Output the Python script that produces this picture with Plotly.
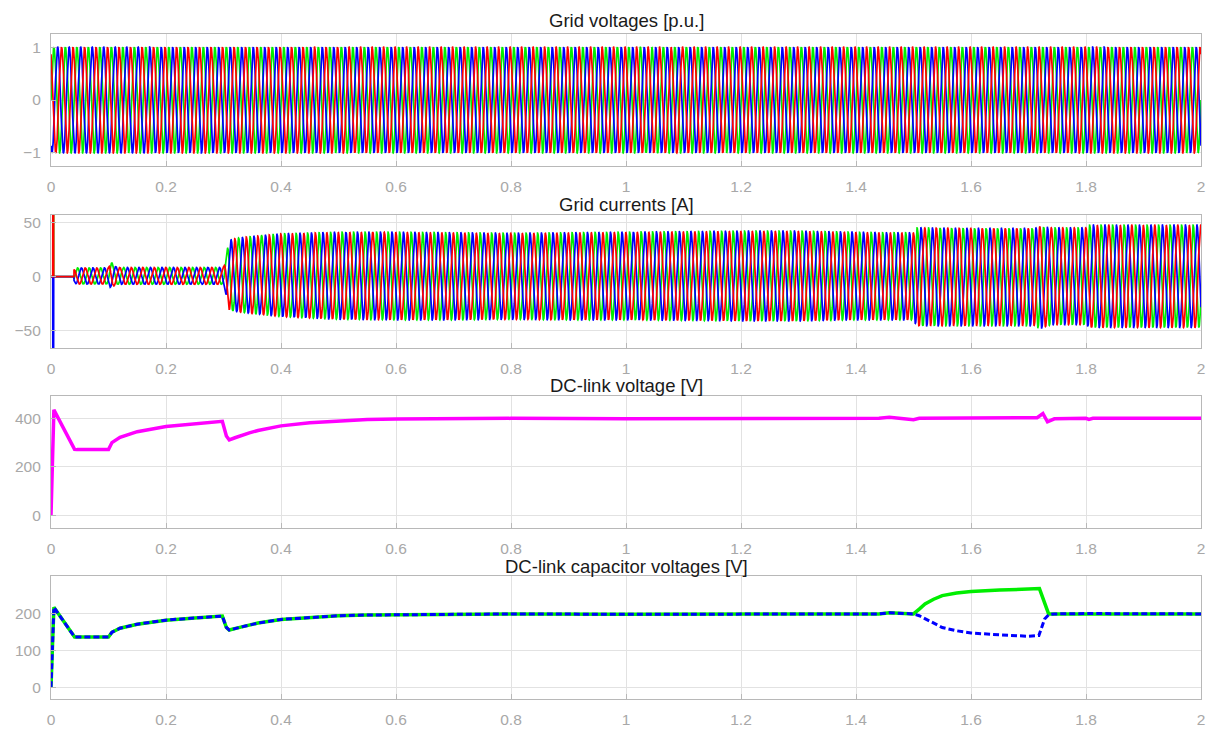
import numpy as np
import plotly.graph_objects as go

# ---------------- data ----------------
F_GRID = 50.0            # Hz
T_END = 2.0
V_AMP = 1.0              # grid voltage amplitude [p.u.]

# grid current envelope (time, positive peak, negative peak)
cur_env_t = [0.040, 0.045, 0.100, 0.103, 0.108, 0.115, 0.300, 0.305, 0.310, 0.330, 0.400,
             0.500, 0.600, 0.700, 0.800, 0.900, 1.000, 1.100, 1.200, 1.300, 1.400, 1.450,
             1.500, 1.505, 1.600, 1.710, 1.720, 1.740, 1.800, 1.805, 2.000]
cur_env_up = [6.5, 8.0, 8.0, 15.0, 11.0, 8.4, 8.4, 22.0, 34.0, 36.0, 39.5,
              41.0, 41.0, 40.5, 40.0, 40.5, 41.0, 41.5, 42.0, 42.0, 41.0, 40.5,
              40.5, 45.0, 44.5, 44.5, 46.0, 45.0, 45.0, 47.5, 47.5]
cur_env_lo = [6.0, 7.0, 7.0, 10.0, 9.0, 7.2, 7.2, 20.0, 31.0, 33.0, 37.0,
              39.5, 40.0, 40.0, 39.5, 40.0, 40.0, 40.5, 41.0, 41.0, 40.0, 40.0,
              40.0, 45.5, 45.5, 45.5, 48.0, 44.5, 44.5, 47.0, 47.0]
# start-up spike of the grid currents
spike_t = [0.0, 0.0030, 0.0032, 0.0045, 0.0047, 0.040]
spike_r = [0.0, 0.0, 80.0, 80.0, 0.0, 0.0]
spike_g = [0.0, 0.0, 0.0, 80.0, 0.0, 0.0]
spike_b = [0.0, 0.0, -90.0, -90.0, 0.0, 0.0]

# DC-link voltage
dc_t = [0.0, 0.005, 0.041, 0.045, 0.100, 0.106, 0.120, 0.150, 0.200, 0.250, 0.298,
        0.305, 0.310, 0.320, 0.330, 0.345, 0.360, 0.380, 0.400, 0.450, 0.500, 0.550,
        0.600, 0.700, 0.800, 1.000, 1.200, 1.440, 1.458, 1.480, 1.500, 1.510, 1.700,
        1.715, 1.725, 1.733, 1.745, 1.800, 1.805, 1.812, 2.000]
dc_v = [0.0, 435.0, 272.0, 271.0, 271.0, 300.0, 322.0, 345.0, 366.0, 378.0, 388.0,
        327.0, 311.0, 320.0, 329.0, 340.0, 350.0, 361.0, 369.0, 382.0, 390.0, 395.0,
        397.0, 399.0, 400.0, 398.0, 400.0, 401.0, 405.0, 401.0, 394.0, 400.0, 400.0,
        403.0, 420.0, 386.0, 398.0, 400.0, 396.0, 400.0, 400.0]

# DC-link capacitor voltages (upper = green, lower = blue)
cap1_t = [0.0, 0.005, 0.041, 0.100, 0.106, 0.120, 0.150, 0.200, 0.250, 0.298, 0.305,
          0.310, 0.330, 0.360, 0.400, 0.450, 0.500, 0.550, 0.600, 0.800, 1.000, 1.200,
          1.440, 1.458, 1.490, 1.500, 1.510, 1.520, 1.535, 1.550, 1.575, 1.600, 1.650,
          1.700, 1.719, 1.735, 1.745, 1.800, 2.000]
cap1_v = [0.0, 218.0, 137.0, 137.0, 150.0, 161.0, 172.0, 183.0, 189.0, 194.0, 163.0,
          156.0, 164.0, 175.0, 185.0, 191.0, 195.0, 197.0, 198.0, 200.0, 199.0, 200.0,
          200.0, 203.0, 200.0, 200.0, 213.0, 227.0, 240.0, 250.0, 257.0, 261.0, 265.0,
          268.0, 269.0, 200.0, 200.0, 201.0, 200.0]
cap2_t = [0.0, 0.005, 0.041, 0.100, 0.106, 0.120, 0.150, 0.200, 0.250, 0.298, 0.305,
          0.310, 0.330, 0.360, 0.400, 0.450, 0.500, 0.550, 0.600, 0.800, 1.000, 1.200,
          1.440, 1.458, 1.490, 1.500, 1.510, 1.520, 1.535, 1.550, 1.575, 1.600, 1.650,
          1.700, 1.718, 1.722, 1.728, 1.735, 1.745, 1.800, 2.000]
cap2_v = [0.0, 218.0, 137.0, 137.0, 150.0, 161.0, 172.0, 183.0, 189.0, 194.0, 163.0,
          156.0, 164.0, 175.0, 185.0, 191.0, 195.0, 197.0, 198.0, 200.0, 199.0, 200.0,
          200.0, 203.0, 200.0, 200.0, 195.0, 187.0, 174.0, 163.0, 154.0, 148.0, 143.0,
          139.0, 141.0, 157.0, 186.0, 198.0, 200.0, 201.0, 200.0]

x_ticks = [0, 0.2, 0.4, 0.6, 0.8, 1.0, 1.2, 1.4, 1.6, 1.8, 2.0]
x_tick_text = ["0", "0.2", "0.4", "0.6", "0.8", "1", "1.2", "1.4", "1.6", "1.8", "2"]
titles = ["Grid voltages [p.u.]", "Grid currents [A]", "DC-link voltage [V]",
          "DC-link capacitor voltages [V]"]
y_ticks = [[-1, 0, 1], [-50, 0, 50], [0, 200, 400], [0, 100, 200]]
y_ranges = [[-1.25, 1.25], [-66, 57], [-52, 493], [-32, 304]]

RED, GREEN, BLUE, MAGENTA = "#ff0000", "#00ee00", "#0000ff", "#ff00ff"

# ---------------- waveforms ----------------
t = np.arange(0, T_END + 1e-9, 0.0002)
w = 2 * np.pi * F_GRID
phases = {"r": 2 * np.pi / 3, "g": 0.0, "b": -2 * np.pi / 3}

volt = {k: V_AMP * np.sin(w * t + p) for k, p in phases.items()}

up = np.interp(t, cur_env_t, cur_env_up)
lo = np.interp(t, cur_env_t, cur_env_lo)
active = t >= cur_env_t[0]
cur = {}
for k, p in phases.items():
    s = np.sin(w * t + p - 0.4)
    c = np.where(s >= 0, s * up, s * lo)
    c = np.where(active, c, 0.0)
    cur[k] = c
spike = {"r": spike_r, "g": spike_g, "b": spike_b}
pre = t < cur_env_t[0]
cur_t = {}
cur_y = {}
for k in phases:
    cur_t[k] = np.concatenate([spike_t, t[~pre]])
    cur_y[k] = np.concatenate([spike[k], cur[k][~pre]])

# ---------------- figure ----------------
fig = go.Figure()
cols = {"r": RED, "g": GREEN, "b": BLUE}

for k in ["g", "b", "r"]:
    fig.add_trace(go.Scatter(x=t, y=volt[k], mode="lines", line=dict(color=cols[k], width=1.7),
                             xaxis="x", yaxis="y", showlegend=False))
for k in ["g", "b", "r"]:
    fig.add_trace(go.Scatter(x=cur_t[k], y=cur_y[k], mode="lines", line=dict(color=cols[k], width=1.7),
                             xaxis="x2", yaxis="y2", showlegend=False))
fig.add_trace(go.Scatter(x=dc_t, y=dc_v, mode="lines", line=dict(color=MAGENTA, width=3.5),
                         xaxis="x3", yaxis="y3", showlegend=False))
fig.add_trace(go.Scatter(x=cap1_t, y=cap1_v, mode="lines", line=dict(color=GREEN, width=3.5),
                         xaxis="x4", yaxis="y4", showlegend=False))
fig.add_trace(go.Scatter(x=cap2_t, y=cap2_v, mode="lines",
                         line=dict(color=BLUE, width=3, dash="6px,3px"),
                         xaxis="x4", yaxis="y4", showlegend=False))

H_TOP, H_BOT = 34, 26
plot_h = 740 - H_TOP - H_BOT
panel_px = [(34, 169), (219, 355), (404, 539), (588, 714)]
title_px = [20, 208, 393, 578]

def pdom(a, b):
    return [(714 - b) / plot_h, (714 - a) / plot_h]

axis_common = dict(showline=True, mirror=True, linecolor="#b8b8b8", linewidth=1.2,
                   gridcolor="#e2e2e2", gridwidth=1, zeroline=False,
                   ticks="inside", ticklen=5, tickcolor="#b8b8b8",
                   tickfont=dict(family="Liberation Sans, Arial", size=15.5, color="#a8a8a8"))

layout = dict(width=1217, height=740, paper_bgcolor="white", plot_bgcolor="white",
              margin=dict(l=51, r=12, t=H_TOP, b=H_BOT), showlegend=False)
annotations = []
for i in range(4):
    sx = "" if i == 0 else str(i + 1)
    layout["xaxis" + sx] = dict(axis_common, range=[0, 2], tickvals=x_ticks, ticktext=x_tick_text,
                                anchor="y" + sx, domain=[0, 1], ticklabelstandoff=6)
    layout["yaxis" + sx] = dict(axis_common, range=y_ranges[i], tickvals=y_ticks[i],
                                anchor="x" + sx, domain=pdom(*panel_px[i]), ticklabelstandoff=6)
    annotations.append(dict(text=titles[i], xref="paper", yref="paper", x=0.5,
                            y=(714 - title_px[i]) / plot_h, xanchor="center", yanchor="middle",
                            showarrow=False,
                            font=dict(family="Liberation Sans, Arial", size=18.5, color="#1a1a1a")))
layout["annotations"] = annotations
fig.update_layout(**layout)

fig.write_html("out.html")
